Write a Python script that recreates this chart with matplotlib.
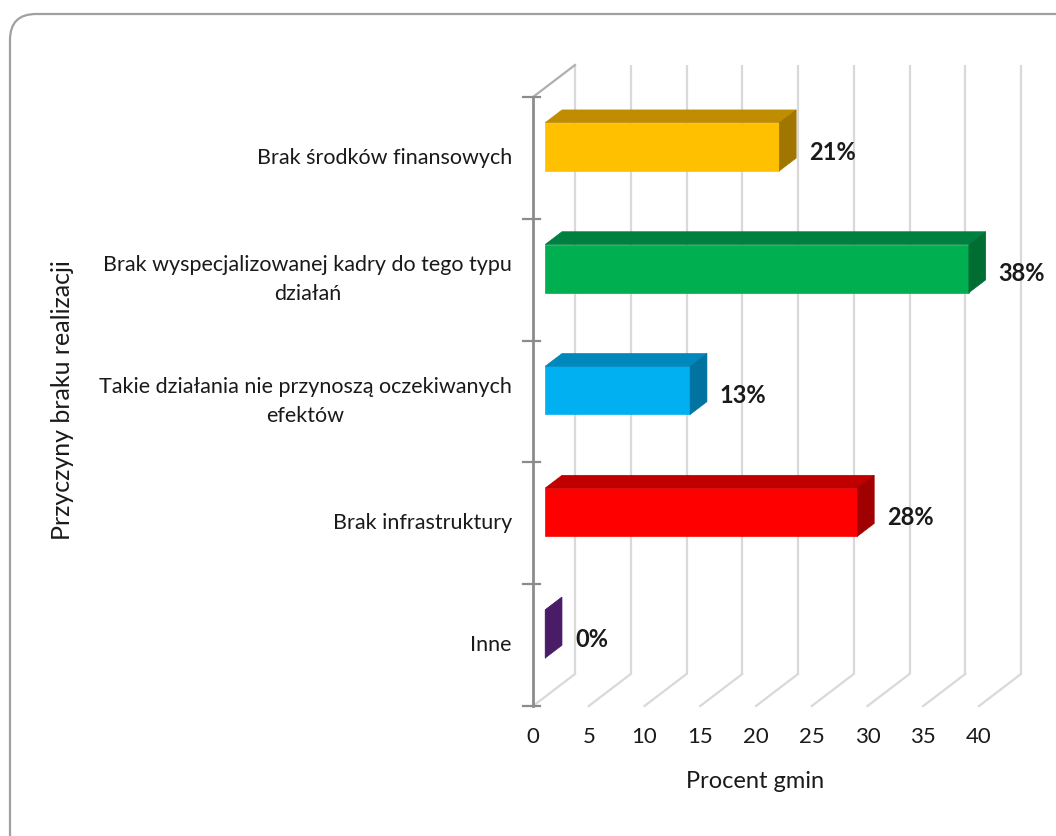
import matplotlib
matplotlib.use("Agg")
import matplotlib.pyplot as plt
from matplotlib.patches import Polygon, FancyBboxPatch
import matplotlib.transforms as mtransforms

plt.rcParams['font.family'] = ['Lato', 'DejaVu Sans']

# ---- data ----
categories = [
    "Brak środków finansowych",
    "Brak wyspecjalizowanej kadry do tego typu\ndziałań",
    "Takie działania nie przynoszą oczekiwanych\nefektów",
    "Brak infrastruktury",
    "Inne",
]
values = [21, 38, 13, 28, 0]
value_labels = ["21%", "38%", "13%", "28%", "0%"]
front_colors = ["#FFC000", "#00B050", "#00B0F0", "#FF0000", "#7030A0"]
top_colors = ["#C08C00", "#008040", "#0088BC", "#C00000", "#552080"]
side_colors = ["#A07600", "#006E33", "#0073A0", "#A00000", "#4A1C68"]
xticks = [0, 5, 10, 15, 20, 25, 30, 35, 40]
xlabel = "Procent gmin"
ylabel = "Przyczyny braku realizacji"

W, H = 1056, 836
fig = plt.figure(figsize=(W / 100, H / 100), dpi=100)

# rounded chart border
border = FancyBboxPatch((10, -40), 1100, 836 - 14 + 40,
                        boxstyle="round,pad=0,rounding_size=26",
                        transform=mtransforms.IdentityTransform(),
                        facecolor="none", edgecolor="#a0a0a0", linewidth=1.6,
                        zorder=-1)
fig.patches.append(border)

# axes: front plane, x in value units, y in category units
px_per_unit = 11.15
xmax = 45
x_left, y_bot_px, y_top_px = 533, 706, 97
ax = fig.add_axes([x_left / W, (H - y_bot_px) / H,
                   px_per_unit * xmax / W, (y_bot_px - y_top_px) / H])
ax.set_xlim(0, xmax)
n = len(categories)
ax.set_ylim(-0.5, n - 0.5)
ax.axis("off")
ax.patch.set_alpha(0)

py_per_unit = (y_bot_px - y_top_px) / n
DX = 42 / px_per_unit       # depth offset in value units
DY = 32 / py_per_unit       # depth offset in category units

grid_c = "#d9d9d9"
# back wall gridlines and floor diagonals
for v in xticks:
    ax.plot([v + DX, v + DX], [-0.5 + DY, n - 0.5 + DY], color=grid_c, lw=1.6,
            zorder=1, clip_on=False, solid_capstyle="butt")
    ax.plot([v, v + DX], [-0.5, -0.5 + DY], color=grid_c, lw=1.6, zorder=1,
            clip_on=False)
# side wall top diagonal
ax.plot([0, DX], [n - 0.5, n - 0.5 + DY], color="#b0b0b0", lw=1.6, zorder=1,
        clip_on=False)

# front axis line and ticks
ax.plot([0, 0], [-0.5, n - 0.5], color="#8c8c8c", lw=2.0, zorder=2, clip_on=False)
for k in range(n + 1):
    y = -0.5 + k
    ax.plot([-10 / px_per_unit, 7 / px_per_unit], [y, y], color="#8c8c8c", lw=1.6,
            zorder=2, clip_on=False)

# bars (3D look)
f1, fd = 0.29, 0.40
h = 0.395
ddx, ddy = fd * DX, fd * DY
for i, (cat, v) in enumerate(zip(categories, values)):
    yc = n - 1 - i
    x0 = f1 * DX
    yb = yc + f1 * DY + 0.015
    y0, y1 = yb - h / 2, yb + h / 2
    front = Polygon([(x0, y0), (x0 + v, y0), (x0 + v, y1), (x0, y1)],
                    closed=True, facecolor=front_colors[i], edgecolor=front_colors[i],
                    lw=0.5, zorder=5)
    top = Polygon([(x0, y1), (x0 + v, y1), (x0 + v + ddx, y1 + ddy), (x0 + ddx, y1 + ddy)],
                  closed=True, facecolor=top_colors[i], edgecolor=top_colors[i],
                  lw=0.5, zorder=5)
    side = Polygon([(x0 + v, y0), (x0 + v, y1), (x0 + v + ddx, y1 + ddy), (x0 + v + ddx, y0 + ddy)],
                   closed=True, facecolor=side_colors[i], edgecolor=side_colors[i],
                   lw=0.5, zorder=5)
    for p in (front, top, side):
        p.set_clip_on(False)
        ax.add_patch(p)
    # value label
    ax.text(v + DX, yc + 0.18 * DY, value_labels[i], ha="left", va="center",
            fontsize=17, fontweight="bold", color="#1a1a1a", zorder=6)
    # category label
    ax.text(-21 / px_per_unit, yc, cat, ha="right", va="center", multialignment="center",
            fontsize=15.5, color="#1a1a1a", linespacing=1.55)

# x tick labels
for v in xticks:
    ax.text(v, -0.5 - 31 / py_per_unit, str(v), ha="center", va="center",
            fontsize=16, color="#1a1a1a")

# axis titles
fig.text(755 / W, 1 - 782 / H, xlabel, ha="center", va="center", fontsize=17,
         color="#1a1a1a")
fig.text(63 / W, 1 - 400 / H, ylabel, ha="center", va="center", rotation=90,
         fontsize=18, color="#1a1a1a")

fig.savefig("out.png", dpi=100)
